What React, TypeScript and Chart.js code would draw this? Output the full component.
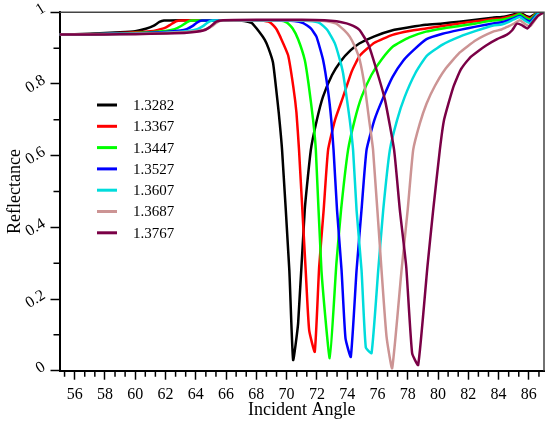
import React, { useEffect, useRef } from 'react';
import Chart from 'chart.js/auto';

// refractive index of each curve
const seriesLabels = ['1.3282', '1.3367', '1.3447', '1.3527', '1.3607', '1.3687', '1.3767'];
const seriesColors = ['#000000', '#ff0000', '#00ff00', '#0000ff', '#00dcdc', '#cc9494', '#7a0046'];

// [incident angle, reflectance]
const n13282: [number, number][] = [
  [55, 0.938], [57, 0.94], [59, 0.944], [60, 0.947], [60.7, 0.954], [61.2, 0.962], [61.6, 0.973], [61.9, 0.977],
  [63, 0.978], [65, 0.978], [66.5, 0.978], [67.2, 0.976], [67.7, 0.97], [68.2, 0.945], [68.56, 0.923], [68.8, 0.9],
  [69.1, 0.86], [69.3, 0.79], [69.48, 0.72], [69.7, 0.616], [70.18, 0.28], [70.43, 0.03], [70.76, 0.132],
  [71.2, 0.45], [71.6, 0.616], [72, 0.7], [72.4, 0.764], [73, 0.825], [73.6, 0.865], [74.2, 0.893], [74.8, 0.913],
  [75.8, 0.933], [77, 0.95], [78.1, 0.958], [79.2, 0.965], [80.3, 0.969], [81.4, 0.974], [82.5, 0.979],
  [83.6, 0.985], [84.2, 0.987], [84.6, 0.99], [85, 0.994], [85.4, 0.999], [85.8, 0.99], [86.1, 0.987],
  [86.6, 1], [87, 1],
];
const n13367: [number, number][] = [
  [55, 0.938], [57, 0.939], [59, 0.942], [60, 0.944], [61, 0.947], [61.5, 0.951], [62, 0.957], [62.35, 0.966],
  [62.7, 0.975], [63, 0.977], [65, 0.978], [67, 0.978], [68.3, 0.977], [68.9, 0.972], [69.3, 0.955], [69.6, 0.93],
  [70.1, 0.88], [70.45, 0.79], [70.65, 0.72], [70.82, 0.616], [71.26, 0.28], [71.49, 0.113], [71.86, 0.053],
  [72.15, 0.29], [72.45, 0.45], [72.74, 0.616], [73.2, 0.7], [73.73, 0.764], [74.3, 0.835], [74.85, 0.88],
  [75.8, 0.915], [77, 0.937], [78.1, 0.948], [79.2, 0.955], [80.3, 0.962], [81.4, 0.969], [82.5, 0.975],
  [83.6, 0.981], [84.2, 0.983], [84.6, 0.987], [85, 0.991], [85.4, 0.997], [85.8, 0.987], [86.1, 0.983],
  [86.6, 1], [87, 1],
];
const n13447: [number, number][] = [
  [55, 0.938], [57, 0.939], [60, 0.942], [62, 0.948], [62.6, 0.953], [63, 0.961], [63.4, 0.972], [63.7, 0.977],
  [66, 0.978], [68, 0.978], [69.5, 0.977], [70, 0.972], [70.4, 0.955], [70.76, 0.925], [71.2, 0.867],
  [71.45, 0.8], [71.75, 0.7], [71.93, 0.616], [72.3, 0.28], [72.85, 0.035], [73.29, 0.3], [73.6, 0.45],
  [74.06, 0.616], [74.5, 0.7], [74.95, 0.764], [75.6, 0.825], [76.25, 0.867], [77.04, 0.905], [78.1, 0.93],
  [79.2, 0.946], [80.3, 0.955], [81.4, 0.962], [82.5, 0.969], [83.6, 0.977], [84.2, 0.979], [84.6, 0.983],
  [85, 0.988], [85.4, 0.995], [85.8, 0.984], [86.1, 0.98], [86.6, 1], [87, 1],
];
const n13527: [number, number][] = [
  [55, 0.938], [57, 0.939], [60, 0.941], [62, 0.945], [63, 0.949], [63.4, 0.953], [63.8, 0.962], [64.1, 0.972],
  [64.4, 0.977], [67, 0.978], [69, 0.978], [70.5, 0.976], [71.1, 0.97], [71.6, 0.955], [71.97, 0.932],
  [72.41, 0.867], [72.74, 0.78], [72.95, 0.7], [73.1, 0.616], [73.33, 0.448], [73.63, 0.28], [73.89, 0.09],
  [74.24, 0.039], [74.62, 0.28], [74.95, 0.45], [75.28, 0.616], [75.8, 0.7], [76.4, 0.764], [77, 0.82],
  [77.7, 0.865], [78.4, 0.895], [79.24, 0.925], [80.3, 0.94], [81.44, 0.951], [82.5, 0.96], [83.64, 0.969],
  [84.2, 0.972], [84.6, 0.977], [85, 0.983], [85.4, 0.99], [85.8, 0.979], [86.1, 0.975], [86.6, 0.997], [87, 1],
];
const n13607: [number, number][] = [
  [55, 0.938], [57, 0.939], [60, 0.94], [62, 0.943], [63.5, 0.948], [64.1, 0.953], [64.5, 0.962], [64.8, 0.972],
  [65.1, 0.977], [68, 0.978], [70, 0.978], [71.5, 0.976], [72.19, 0.97], [72.7, 0.95], [73.18, 0.914],
  [73.5, 0.87], [73.73, 0.83], [73.96, 0.764], [74.17, 0.7], [74.39, 0.616], [74.62, 0.448], [74.95, 0.28],
  [75.23, 0.065], [75.61, 0.049], [76.05, 0.28], [76.38, 0.448], [76.82, 0.616], [77.3, 0.7], [77.8, 0.764],
  [78.5, 0.83], [79.24, 0.878], [80.3, 0.91], [81.44, 0.932], [82.5, 0.948], [83.64, 0.963], [84.2, 0.966],
  [84.6, 0.972], [85, 0.98], [85.4, 0.987], [85.8, 0.975], [86.1, 0.97], [86.6, 0.995], [87, 1],
];
const n13687: [number, number][] = [
  [55, 0.938], [58, 0.939], [60, 0.94], [62, 0.942], [64, 0.947], [64.7, 0.953], [65.1, 0.962], [65.4, 0.972],
  [65.7, 0.977], [68, 0.978], [71, 0.978], [72.5, 0.976], [73.3, 0.968], [73.8, 0.95], [74.17, 0.932],
  [74.5, 0.905], [74.83, 0.867], [75.17, 0.79], [75.45, 0.7], [75.71, 0.616], [76.27, 0.28], [76.6, 0.095],
  [76.97, 0.007], [77.59, 0.28], [78, 0.45], [78.36, 0.616], [78.8, 0.69], [79.24, 0.745], [79.8, 0.795],
  [80.45, 0.84], [81.44, 0.888], [82.5, 0.922], [83.64, 0.946], [84.2, 0.952], [84.6, 0.96], [85, 0.968],
  [85.4, 0.978], [85.8, 0.966], [86.1, 0.962], [86.6, 0.99], [87, 1],
];
const n13767: [number, number][] = [
  [55, 0.938], [58, 0.938], [60, 0.939], [62, 0.941], [63.4, 0.943], [64.5, 0.949], [64.9, 0.958], [65.36, 0.974],
  [65.8, 0.978], [68, 0.979], [71, 0.979], [72.5, 0.978], [73.3, 0.975], [73.96, 0.969], [74.4, 0.962],
  [74.83, 0.95], [75.4, 0.91], [75.94, 0.839], [76.5, 0.755], [77.1, 0.616], [77.48, 0.448], [77.9, 0.29],
  [78.29, 0.049], [78.69, 0.016], [79.3, 0.29], [79.68, 0.448], [80.12, 0.616], [80.4, 0.7], [81, 0.79],
  [81.5, 0.84], [82.1, 0.873], [82.6, 0.89], [83.2, 0.908], [83.9, 0.925], [84.53, 0.937], [84.9, 0.95],
  [85.2, 0.968], [85.5, 0.965], [85.9, 0.955], [86.2, 0.97], [86.6, 0.99], [87, 1],
];
const allSeries = [n13282, n13367, n13447, n13527, n13607, n13687, n13767];

const xTicks = [56, 58, 60, 62, 64, 66, 68, 70, 72, 74, 76, 78, 80, 82, 84, 86];
const yTicks = [0, 0.2, 0.4, 0.6, 0.8, 1];

const FONT = '"Liberation Serif", "Times New Roman", serif';

// frame, minor ticks, tilted y labels and the inset legend
const decorPlugin = {
  id: 'decor',
  afterDraw(chart: any) {
    const { ctx, chartArea: a } = chart;
    const xs = chart.scales.x;
    const ys = chart.scales.y;
    ctx.save();

    ctx.strokeStyle = '#444';
    ctx.lineWidth = 1.5;
    ctx.beginPath();
    ctx.moveTo(a.left, a.top);
    ctx.lineTo(a.right, a.top);
    ctx.lineTo(a.right, a.bottom);
    ctx.stroke();

    ctx.strokeStyle = '#000';
    ctx.lineWidth = 1.5;
    ctx.beginPath();
    for (let k = -1; k <= 46; k++) {
      if (k % 3 === 0) continue;
      const px = xs.getPixelForValue(56 + (k * 2) / 3);
      ctx.moveTo(px, a.bottom);
      ctx.lineTo(px, a.bottom + 6);
    }
    for (let k = 1; k < 10; k += 2) {
      const py = ys.getPixelForValue(k / 10);
      ctx.moveTo(a.left, py);
      ctx.lineTo(a.left - 6, py);
    }
    ctx.stroke();

    ctx.fillStyle = '#000';
    ctx.font = `16px ${FONT}`;
    ctx.textAlign = 'right';
    ctx.textBaseline = 'middle';
    yTicks.forEach((v) => {
      const py = ys.getPixelForValue(v);
      ctx.save();
      ctx.translate(44, py - 5);
      ctx.rotate((-32 * Math.PI) / 180);
      ctx.fillText(String(v), 0, 0);
      ctx.restore();
    });

    ctx.font = `15px ${FONT}`;
    ctx.textAlign = 'left';
    chart.data.datasets.forEach((ds: any, i: number) => {
      const yy = 105 + i * 21.3;
      ctx.strokeStyle = ds.borderColor;
      ctx.lineWidth = 3;
      ctx.beginPath();
      ctx.moveTo(97, yy);
      ctx.lineTo(117, yy);
      ctx.stroke();
      ctx.fillText(ds.label, 133, yy + 1);
    });
    ctx.restore();
  },
};

const ReflectanceChart = () => {
  const chartRef = useRef<HTMLCanvasElement>(null);

  useEffect(() => {
    if (!chartRef.current) return;
    const chart = new Chart(chartRef.current, {
      type: 'line',
      data: {
        datasets: allSeries.map((pts, i) => ({
          label: seriesLabels[i],
          data: pts.map(([x, y]) => ({ x, y })),
          borderColor: seriesColors[i],
          backgroundColor: seriesColors[i],
          borderWidth: 2.5,
          pointRadius: 0,
          tension: 0.15,
          fill: false,
          order: allSeries.length - i,
        })),
      },
      options: {
        animation: false,
        responsive: true,
        maintainAspectRatio: false,
        layout: { padding: { top: 12.3, right: 6, left: 0, bottom: 0 } },
        plugins: { legend: { display: false }, tooltip: { enabled: false } },
        scales: {
          x: {
            type: 'linear',
            min: 55,
            max: 87,
            afterBuildTicks: (s: any) => {
              s.ticks = xTicks.map((value) => ({ value }));
            },
            afterFit: (s: any) => {
              s.height = 54.3;
            },
            grid: { drawOnChartArea: false, drawTicks: true, tickLength: 9, tickColor: '#000', tickWidth: 1.5 },
            border: { display: true, color: '#000', width: 2 },
            ticks: { color: '#000', font: { family: FONT, size: 16 }, padding: 5, maxRotation: 0, autoSkip: false },
            title: {
              display: true,
              text: 'Incident Angle',
              color: '#000',
              font: { family: FONT, size: 18 },
              padding: { bottom: 4 },
            },
          },
          y: {
            type: 'linear',
            min: 0,
            max: 1,
            afterBuildTicks: (s: any) => {
              s.ticks = yTicks.map((value) => ({ value }));
            },
            afterFit: (s: any) => {
              s.width = 59.5;
            },
            grid: { drawOnChartArea: false, drawTicks: true, tickLength: 9, tickColor: '#000', tickWidth: 1.5 },
            border: { display: true, color: '#000', width: 2 },
            ticks: { display: false },
            title: {
              display: true,
              text: 'Reflectance',
              color: '#000',
              font: { family: FONT, size: 18 },
              padding: { top: 4 },
            },
          },
        },
      },
      plugins: [decorPlugin],
    });

    return () => {
      chart.destroy();
    };
  }, []);

  return <canvas ref={chartRef} />;
};

export default function App() {
  return (
    <div style={{ position: 'absolute', left: 0, top: 0, width: 550, height: 425, background: '#fff' }}>
      <ReflectanceChart />
    </div>
  );
}
